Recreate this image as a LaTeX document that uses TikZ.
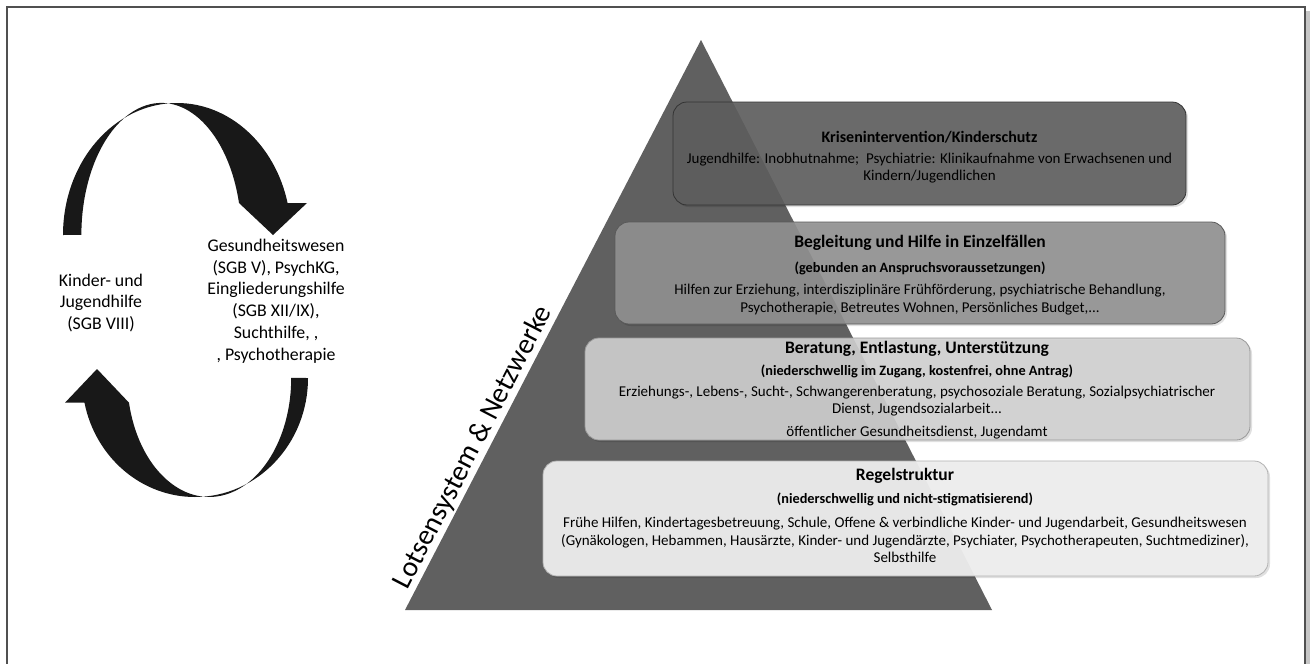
\documentclass[tikz,border=0pt]{standalone}
\usepackage{fontspec}
\setmainfont{Carlito}
\definecolor{trigray}{HTML}{606060}
\definecolor{bone}{HTML}{5E5E5E}
\definecolor{btwo}{HTML}{919191}
\definecolor{bthree}{HTML}{D1D1D1}
\definecolor{bfour}{HTML}{EEEEEE}
\definecolor{arrowblack}{HTML}{181818}
\definecolor{framegray}{HTML}{505050}
\begin{document}
\begin{tikzpicture}[x=1pt,y=-1pt,
  layer/.style={rectangle, rounded corners=14pt, line width=0.8pt, inner sep=0pt},
  shadowbox/.style={rectangle, rounded corners=14pt, inner sep=0pt, fill=black, fill opacity=0.12, draw=none},
  ttl/.style={font=\bfseries\fontsize{17.5}{20}\selectfont, inner sep=0pt, align=center},
  sub/.style={font=\bfseries\fontsize{14.3}{17}\selectfont, inner sep=0pt, align=center},
  body/.style={font=\fontsize{15}{17.8}\selectfont, inner sep=0pt, align=center},
  side/.style={font=\fontsize{17.8}{21.8}\selectfont, inner sep=0pt, align=center},
  bigarrow/.style={fill=arrowblack}
]
\useasboundingbox (0,0) rectangle (1310,664);
\fill[white] (0,0) rectangle (1310,664);
% frame with shadow
\fill[gray!45] (1306,11) rectangle (1310,670);
\draw[line width=1.6pt, framegray] (7,672) -- (7,7) -- (1305,7) -- (1305,672);

% cycle arrows
\fill[bigarrow] (63,235) arc[start angle=180, end angle=346, x radius=114, y radius=132]
  -- (307,203) -- (273,235) -- (239,203)
  arc[start angle=346, end angle=180, x radius=80, y radius=132] -- cycle;
\fill[bigarrow] (308,378) arc[start angle=0, end angle=168, x radius=113, y radius=119]
  -- (65,402.7) -- (97,369) -- (129,402.7)
  arc[start angle=168, end angle=0, x radius=82, y radius=119] -- cycle;

\node[side] (kjh) at (101,303) {Kinder- und\\Jugendhilfe\\(SGB VIII)};
\node[side] (gw) at (276,301) {Gesundheitswesen\\(SGB V), PsychKG,\\Eingliederungshilfe\\(SGB XII/IX),\\Suchthilfe, ,\\, Psychotherapie};

% pyramid
\fill[trigray] (701,40) -- (992,610) -- (405,610) -- cycle;
\node[rotate=62.6, anchor=base, font=\fontsize{28.6}{32}\selectfont, inner sep=0pt] (lots) at (480,451) {Lotsensystem \& Netzwerke};

% shadows
\node[shadowbox, minimum width=513pt, minimum height=103pt] (s1) at (931.5,155.5) {};
\node[shadowbox, minimum width=610pt, minimum height=102pt] (s2) at (922,275) {};
\node[shadowbox, minimum width=665pt, minimum height=102pt] (s3) at (919.5,391) {};
\node[shadowbox, minimum width=725pt, minimum height=115pt] (s4) at (907.5,520.5) {};

% boxes
\node[layer, fill=bone, fill opacity=0.9, draw=black!80, minimum width=513pt, minimum height=103pt] (b1) at (929.5,153.5) {};
\node[layer, fill=btwo, fill opacity=0.9, draw=black!65, minimum width=610pt, minimum height=102pt] (b2) at (920,273) {};
\node[layer, fill=bthree, fill opacity=0.9, draw=black!40, minimum width=665pt, minimum height=102pt] (b3) at (917.5,389) {};
\node[layer, fill=bfour, fill opacity=0.95, draw=black!30, minimum width=725pt, minimum height=115pt] (b4) at (905.5,518.5) {};

% texts box 1
\node[ttl, font=\bfseries\fontsize{16}{19}\selectfont] (t1) at (929.5,137) {Krisenintervention/Kinderschutz};
\node[body] (x1) at (929.5,168) {Jugendhilfe: Inobhutnahme;\ \ Psychiatrie: Klinikaufnahme von Erwachsenen und\\Kindern/Jugendlichen};
% box 2
\node[ttl] (t2) at (920,243) {Begleitung und Hilfe in Einzelfällen};
\node[sub] (u2) at (920,268) {(gebunden an Anspruchsvoraussetzungen)};
\node[body] (x2) at (920,299.5) {Hilfen zur Erziehung, interdisziplinäre Frühförderung, psychiatrische Behandlung,\\Psychotherapie, Betreutes Wohnen, Persönliches Budget,...};
% box 3
\node[ttl] (t3) at (917,349) {Beratung, Entlastung, Unterstützung};
\node[sub] (u3) at (917,371) {(niederschwellig im Zugang, kostenfrei, ohne Antrag)};
\node[body] (x3) at (917,401) {Erziehungs-, Lebens-, Sucht-, Schwangerenberatung, psychosoziale Beratung, Sozialpsychiatrischer\\Dienst, Jugendsozialarbeit...};
\node[body] (y3) at (917,433) {öffentlicher Gesundheitsdienst, Jugendamt};
% box 4
\node[ttl] (t4) at (905,476) {Regelstruktur};
\node[sub] (u4) at (905,499) {(niederschwellig und nicht-stigmatisierend)};
\node[body] (x4) at (905,540) {Frühe Hilfen, Kindertagesbetreuung, Schule, Offene \& verbindliche Kinder- und Jugendarbeit, Gesundheitswesen\\(Gynäkologen, Hebammen, Hausärzte, Kinder- und Jugendärzte, Psychiater, Psychotherapeuten, Suchtmediziner),\\Selbsthilfe};
\end{tikzpicture}
\end{document}
